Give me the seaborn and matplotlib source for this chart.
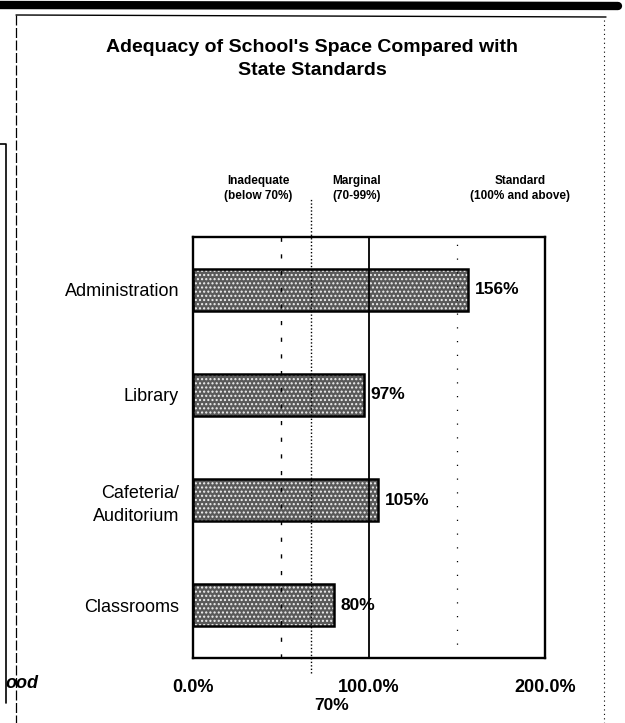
"""Adequacy of school space compared with state standards

Horizontal bar chart of each space as a percentage of the state standard,
with reference lines for the inadequate / marginal / standard bands.
"""
import matplotlib
matplotlib.use('Agg')
import matplotlib.pyplot as plt
from matplotlib.lines import Line2D
from matplotlib.patches import Rectangle
import matplotlib.transforms as mtransforms
import pandas as pd
import seaborn as sns

# Chart data
spaces = ['Administration', 'Library', 'Cafeteria/\nAuditorium', 'Classrooms']
percent_of_standard = [156, 97, 105, 80]
value_labels = ['156%', '97%', '105%', '80%']

x_ticks = [0, 100, 200]
x_tick_labels = ['0.0%', '100.0%', '200.0%']

band_headers = ['Inadequate\n(below 70%)', 'Marginal\n(70-99%)', 'Standard\n(100% and above)']
band_header_x = [37, 93, 186]           # header centres, in % units
dashed_ref = 50
dotted_ref = 67                         # drawn where the scan shows the 70% line
dotted_ref_label = '70%'
right_ref = 150

title = "Adequacy of School's Space Compared with\nState Standards"

W, H = 625, 723


def fx(px):
    return px / W


def fy(py):
    return 1 - py / H


sns.set_style('white')
plt.rcParams['font.family'] = ['Liberation Sans', 'DejaVu Sans']
plt.rcParams['text.color'] = 'black'
plt.rcParams['xtick.color'] = 'black'
plt.rcParams['ytick.color'] = 'black'
plt.rcParams['axes.labelcolor'] = 'black'

fig = plt.figure(figsize=(W / 100, H / 100), dpi=100)
ax = fig.add_axes([fx(193), fy(658), fx(545) - fx(193), fy(237) - fy(658)])

df = pd.DataFrame({'space': spaces, 'pct': percent_of_standard})
sns.barplot(data=df, x='pct', y='space', orient='h', width=0.4,
            color='#595959', saturation=1, ax=ax)

# stippled look of the scanned bars: white dots over grey, black outline
for p in ax.patches:
    p.set_hatch('....')
    p.set_edgecolor('#f0f0f0')
    p.set_linewidth(0)
    ax.add_patch(Rectangle(p.get_xy(), p.get_width(), p.get_height(),
                           fill=False, edgecolor='black', linewidth=1.8, zorder=3))

ax.set_xlim(0, 200)
ax.set_ylim(3.5, -0.5)
ax.set_xlabel('')
ax.set_ylabel('')

# reference lines
ax.axvline(100, color='black', linewidth=1.3, zorder=1)
ax.axvline(dashed_ref, color='black', linewidth=1.0, linestyle=(0, (3, 9)), zorder=1)
ax.axvline(right_ref, color='black', linewidth=0.9, linestyle=(0, (1, 10)), zorder=1)
blend = mtransforms.blended_transform_factory(ax.transData, ax.transAxes)
ax.plot([dotted_ref, dotted_ref], [-0.035, 1.09], transform=blend, color='black',
        linewidth=1.0, linestyle=(0, (1, 1.5)), clip_on=False, zorder=1)
ax.text(dotted_ref + 2, -0.112, dotted_ref_label, transform=blend, ha='left', va='center',
        fontsize=12.5, fontweight='bold')

# band headers above the plot
for label, xc in zip(band_headers, band_header_x):
    ax.text(xc, 1.116, label, transform=blend, ha='center', va='center',
            fontsize=8.5, fontweight='bold', linespacing=1.35)

# value labels at the bar ends
for i, (v, lab) in enumerate(zip(percent_of_standard, value_labels)):
    ax.annotate(lab, (v, i), xytext=(5, 0), textcoords='offset points',
                ha='left', va='center', fontsize=12.5, fontweight='bold')

ax.set_xticks(x_ticks)
ax.set_xticklabels(x_tick_labels, fontsize=13, fontweight='bold')
ax.tick_params(axis='x', length=0, pad=15)
ax.tick_params(axis='y', length=0, pad=10, labelsize=13)
for t in ax.get_yticklabels():
    t.set_linespacing(1.45)
ax.set_yticks([0.5, 1.5, 2.5], minor=True)
ax.tick_params(axis='y', which='minor', length=4, direction='in', width=1)
for s in ax.spines.values():
    s.set_visible(True)
    s.set_color('black')
    s.set_linewidth(1.7)

fig.text(0.5, fy(59), title, ha='center', va='center', fontsize=14,
         fontweight='bold', linespacing=1.4)

# page furniture from the scanned document
fig.add_artist(Line2D([0, fx(618)], [fy(5), fy(6)], color='black', linewidth=6))
fig.add_artist(Line2D([fx(16), fx(606)], [fy(15), fy(17)], color='black', linewidth=1))
fig.add_artist(Line2D([fx(16), fx(16)], [fy(15), 0], color='black', linewidth=0.9,
                      linestyle=(0, (8, 2))))
fig.add_artist(Line2D([fx(604), fx(604)], [fy(20), 0], color='black', linewidth=0.8,
                      linestyle=(0, (1, 3))))
fig.add_artist(Line2D([0, fx(6), fx(6)], [fy(144), fy(144), fy(703)], color='black',
                      linewidth=1.2))
fig.text(fx(5), fy(683), 'ood', ha='left', va='center', fontsize=13,
         fontweight='bold', fontstyle='italic')

fig.savefig('out.png', dpi=100, facecolor='white')
